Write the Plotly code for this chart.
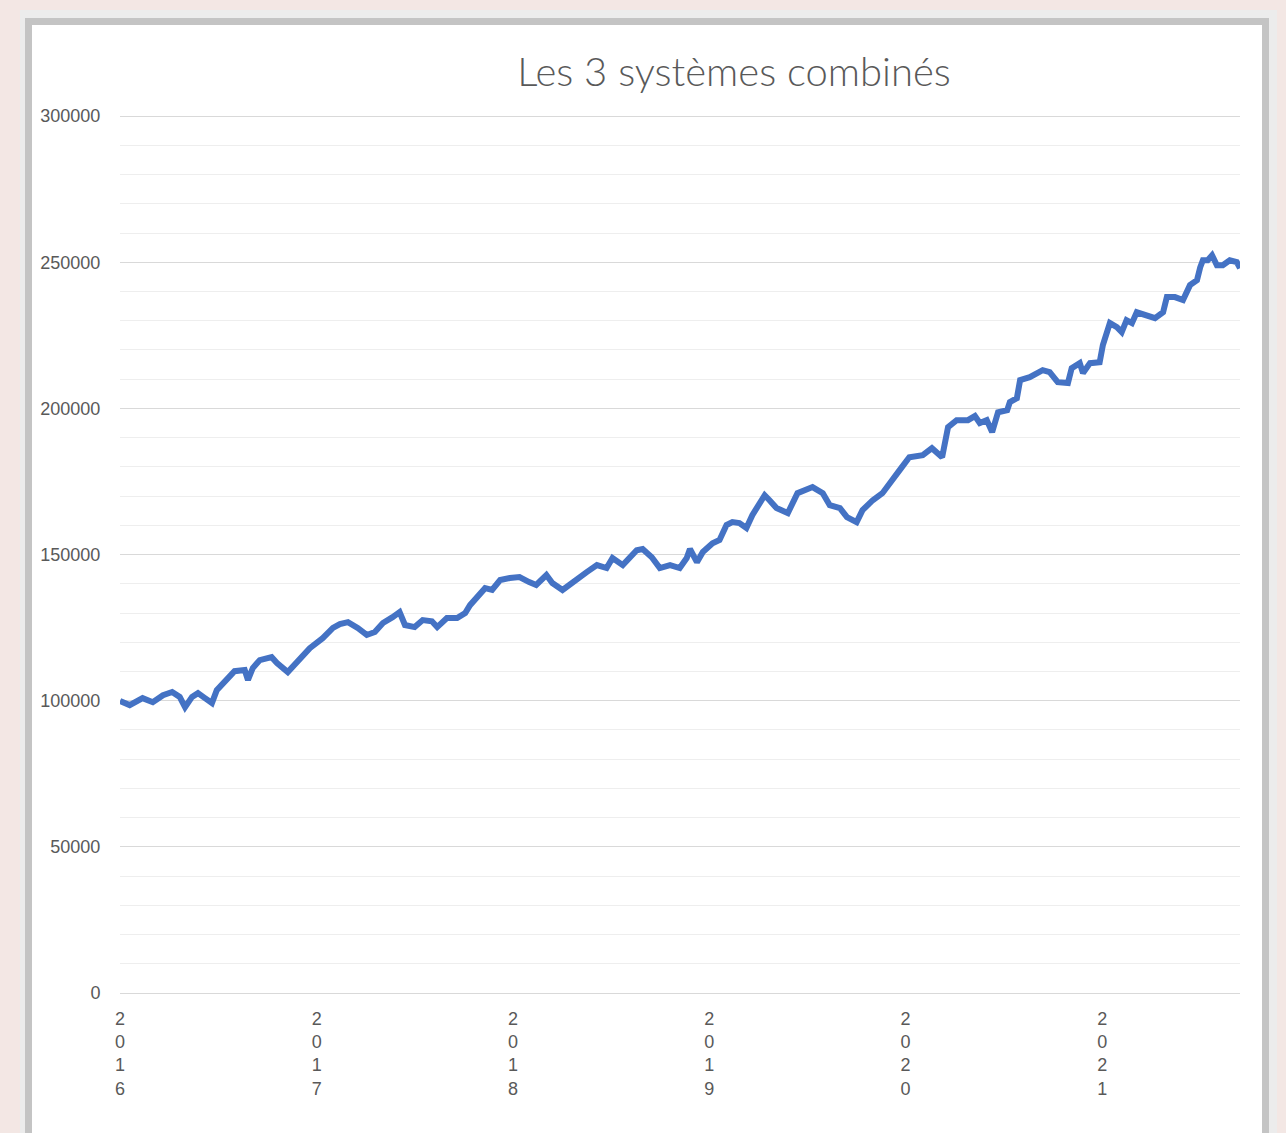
import plotly.graph_objects as go

# ---- data ----
dates = [
    "2016-01-01", "2016-01-19", "2016-02-12", "2016-03-02", "2016-03-21", "2016-04-07", "2016-04-21",
    "2016-05-01", "2016-05-14", "2016-05-25", "2016-06-07", "2016-06-20", "2016-06-29", "2016-07-14",
    "2016-08-01", "2016-08-20", "2016-08-26", "2016-09-04", "2016-09-17", "2016-10-09", "2016-10-19",
    "2016-11-08", "2016-11-27", "2016-12-19", "2017-01-12", "2017-01-31", "2017-02-13", "2017-02-28",
    "2017-03-18", "2017-04-04", "2017-04-19", "2017-05-04", "2017-05-22", "2017-06-04", "2017-06-14",
    "2017-07-02", "2017-07-17", "2017-08-03", "2017-08-13", "2017-08-31", "2017-09-19", "2017-10-04",
    "2017-10-13", "2017-10-26", "2017-11-10", "2017-11-23", "2017-12-08", "2017-12-26", "2018-01-13",
    "2018-01-31", "2018-02-13", "2018-03-04", "2018-03-15", "2018-04-03", "2018-04-20", "2018-05-01",
    "2018-05-18", "2018-06-06", "2018-06-24", "2018-07-05", "2018-07-24", "2018-08-19", "2018-08-30",
    "2018-09-16", "2018-10-01", "2018-10-20", "2018-11-07", "2018-11-20", "2018-11-26", "2018-12-09",
    "2018-12-20", "2019-01-07", "2019-01-20", "2019-02-02", "2019-02-13", "2019-02-26", "2019-03-11",
    "2019-03-22", "2019-04-14", "2019-04-23", "2019-05-06", "2019-05-27", "2019-06-14", "2019-07-12",
    "2019-07-31", "2019-08-13", "2019-09-01", "2019-09-14", "2019-10-02", "2019-10-13", "2019-11-01",
    "2019-11-19", "2019-12-02", "2019-12-21", "2020-01-08", "2020-02-02", "2020-02-19", "2020-03-09",
    "2020-03-20", "2020-04-05", "2020-04-26", "2020-05-09", "2020-05-18", "2020-05-31", "2020-06-10",
    "2020-06-21", "2020-07-08", "2020-07-13", "2020-07-26", "2020-08-01", "2020-08-19", "2020-09-12",
    "2020-09-25", "2020-10-10", "2020-10-29", "2020-11-05", "2020-11-20", "2020-11-26", "2020-12-09",
    "2020-12-27", "2021-01-02", "2021-01-15", "2021-01-28", "2021-02-06", "2021-02-15", "2021-02-25",
    "2021-03-06", "2021-03-25", "2021-04-09", "2021-04-24", "2021-05-01", "2021-05-16", "2021-05-31",
    "2021-06-13", "2021-06-26", "2021-07-02", "2021-07-07", "2021-07-16", "2021-07-24", "2021-08-02",
    "2021-08-13", "2021-08-26", "2021-09-08", "2021-09-14",
]

values = [
    99900, 98500, 100900, 99500, 101900, 103000, 101300,
    97800, 101300, 102600, 100900, 99200, 103600, 106400,
    110100, 110500, 107100, 111200, 113900, 114900, 112900,
    109800, 113900, 118000, 121400, 124900, 126200, 126900,
    124900, 122500, 123500, 126600, 128600, 130300, 125900,
    125200, 127600, 127200, 125200, 128300, 128300, 130000,
    132700, 135500, 138500, 137900, 141300, 142000, 142300,
    140600, 139600, 143000, 140300, 137900, 140300, 142000,
    144000, 146400, 145400, 148800, 146400, 151500, 151900,
    149100, 145400, 146400, 145400, 148800, 151900, 147400,
    150900, 153900, 155000, 160100, 161100, 160800, 159100,
    163500, 170300, 168600, 165900, 164200, 171000, 173100,
    171000, 166900, 165900, 162800, 161100, 165200, 168600,
    171000, 174500, 178900, 183300, 184000, 186400, 183300,
    193600, 196000, 196000, 197400, 195000, 196000, 191900,
    198700, 199400, 202200, 203500, 209700, 210700, 213100,
    212400, 209000, 208700, 213800, 215500, 212100, 215500,
    215800, 221700, 229200, 227800, 226100, 230200, 229200,
    232900, 231900, 230900, 232900, 238100, 238100, 237100,
    242200, 243900, 248300, 250700, 250700, 252400, 249000,
    249000, 250700, 250100, 248000,
]

year_ticks = ["2016-01-01", "2017-01-01", "2018-01-01", "2019-01-01", "2020-01-01", "2021-01-01"]
year_labels = ["2<br>0<br>1<br>6", "2<br>0<br>1<br>7", "2<br>0<br>1<br>8",
               "2<br>0<br>1<br>9", "2<br>0<br>2<br>0", "2<br>0<br>2<br>1"]
y_ticks = [0, 50000, 100000, 150000, 200000, 250000, 300000]
y_labels = ["0", "50000", "100000", "150000", "200000", "250000", "300000"]

title_text = "Les 3 systèmes combinés"

# ---- figure ----
W, H = 1286, 1133
L, R, T, B = 120, 46, 115, 140
pw, ph = W - L - R, H - T - B


def px_x(p):
    return (p - L) / pw


def px_y(p):
    return (H - B - p) / ph


fig = go.Figure()
fig.add_trace(go.Scatter(
    x=dates, y=values, mode="lines",
    line=dict(color="#4472C4", width=6),
    hoverinfo="x+y", showlegend=False,
))

# soft shadow round the panel
fig.add_shape(type="rect", xref="paper", yref="paper",
              x0=px_x(24), x1=px_x(1273), y0=px_y(1160), y1=px_y(14),
              fillcolor="#ececec", line=dict(color="#ececec", width=8), layer="below")
# white chart panel with grey frame
fig.add_shape(type="rect", xref="paper", yref="paper",
              x0=px_x(28.5), x1=px_x(1265.5), y0=px_y(1150), y1=px_y(21.5),
              fillcolor="#ffffff", line=dict(color="#c4c4c4", width=7), layer="below")

fig.update_layout(
    width=W, height=H,
    margin=dict(l=L, r=R, t=T, b=B),
    paper_bgcolor="#f3e7e4",
    plot_bgcolor="rgba(0,0,0,0)",
    font=dict(family="Liberation Sans, Arial, sans-serif", color="#595959"),
    title=dict(text=title_text, x=734 / W, xanchor="center",
               y=1 - 72 / H, yanchor="middle", yref="container",
               font=dict(family="Lato, Open Sans, sans-serif", size=40, color="#595959", weight=300)),
    xaxis=dict(
        type="date", range=["2016-01-01", "2021-09-14"],
        tickvals=year_ticks, ticktext=year_labels,
        showgrid=False, zeroline=False,
        showline=True, linecolor="#d9d9d9", linewidth=1,
        ticks="outside", ticklen=9, tickcolor="rgba(0,0,0,0)",
        tickfont=dict(size=18, color="#595959"),
        tickangle=0,
    ),
    yaxis=dict(
        range=[0, 300400],
        tickvals=y_ticks, ticktext=y_labels,
        showgrid=True, gridcolor="#d9d9d9", gridwidth=1,
        zeroline=False, showline=False,
        ticks="outside", ticklen=15, tickcolor="rgba(0,0,0,0)",
        tickfont=dict(size=18, color="#595959"),
        minor=dict(dtick=10000, tick0=0, showgrid=True, gridcolor="#eeeeee", gridwidth=1),
    ),
)

fig.write_html(
    "out.html",
    config={"displayModeBar": False},
    post_script="document.body.style.margin='0';document.body.style.background='#f3e7e4';",
)
